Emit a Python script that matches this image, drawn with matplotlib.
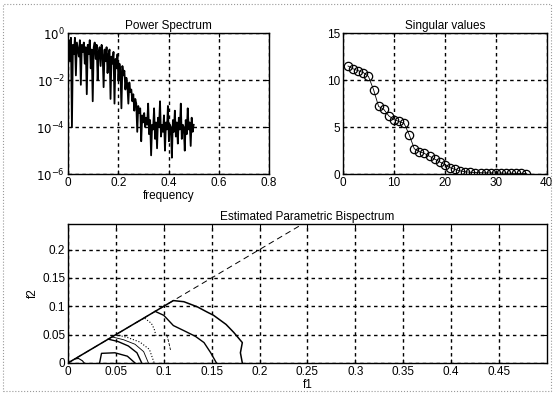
import matplotlib
matplotlib.use('Agg')
import matplotlib.pyplot as plt
import numpy as np
from matplotlib.patches import Rectangle

plt.rcParams['font.family'] = ['Liberation Sans', 'DejaVu Sans']
plt.rcParams['font.size'] = 8.5

# power spectrum, log10 of power (0 .. 0.5 in frequency)
spec_log = [
    -0.6, -0.3, -1.2, -0.2, -4.0, -0.5, -0.9, -0.2, -1.8, -0.4, -0.7, -1.0, -0.3, -2.2, -0.5, -0.8,
    -0.4, -1.3, -0.6, -2.6, -0.5, -0.9, -0.3, -1.5, -0.7, -2.9, -0.6, -0.4, -1.1, -0.5, -2.0, -0.8,
    -0.6, -1.4, -0.5, -0.9, -2.3, -0.7, -1.2, -0.6, -1.7, -0.9, -0.7, -2.8, -1.0, -1.3, -0.8, -3.0,
    -1.1, -1.5, -0.9, -2.0, -1.3, -1.6, -3.2, -1.4, -1.8, -1.6, -2.4, -1.9, -2.2, -3.0, -2.1, -2.5,
    -2.4, -2.9, -2.6, -3.3, -2.8, -3.0, -4.2, -3.1, -3.4, -3.2, -4.6, -3.5, -3.8, -3.4, -4.0, -3.6,
    -3.9, -3.0, -4.3, -3.7, -5.2, -3.9, -4.1, -3.2, -4.5, -3.8, -4.9, -3.6, -4.0, -2.9, -4.4, -3.9,
    -4.2, -3.5, -5.0, -3.8, -4.1, -3.1, -4.6, -3.9, -4.0, -5.3, -3.7, -4.2, -3.3, -4.4, -3.8, -4.7,
    -3.6, -4.1, -3.0, -4.5, -3.9, -4.0, -5.0, -3.7, -4.3, -3.2, -4.1, -3.8, -4.8, -3.6, -4.2, -3.9,
]
freq = np.linspace(0, 0.5, len(spec_log))

# singular values
sv = [11.5, 11.2, 11.0, 10.8, 10.4, 9.0, 7.2, 6.9, 6.2, 5.8, 5.6, 5.4, 4.2, 2.7, 2.4, 2.2,
      1.9, 1.6, 1.3, 1.0, 0.7, 0.5, 0.35, 0.25, 0.2, 0.17, 0.15, 0.14, 0.13, 0.12, 0.11,
      0.1, 0.09, 0.08, 0.07, 0.06]
sv_idx = np.arange(1, len(sv) + 1)

# bispectrum contour lines (f1, f2)
contours = [
    ([0, 0.11, 0.121, 0.135, 0.145, 0.152, 0.165, 0.173, 0.182, 0.180, 0.182],
     [0, 0.11, 0.108, 0.099, 0.090, 0.084, 0.068, 0.054, 0.036, 0.018, 0.0], '-', 1.1),
    ([0.091, 0.100, 0.110, 0.121, 0.133, 0.142, 0.149, 0.155],
     [0.091, 0.084, 0.066, 0.057, 0.047, 0.036, 0.018, 0.0], '-', 1.0),
    ([0.072, 0.080, 0.087, 0.090, 0.092],
     [0.072, 0.079, 0.070, 0.060, 0.047], ':', 0.8),
    ([0.103, 0.105, 0.107],
     [0.050, 0.038, 0.023], '--', 0.6),
    ([0.042, 0.052, 0.063, 0.072, 0.077],
     [0.042, 0.038, 0.030, 0.018, 0.0], '-', 1.0),
    ([0.046, 0.058, 0.070, 0.079, 0.084],
     [0.046, 0.041, 0.033, 0.020, 0.0], '-', 0.6),
    ([0.050, 0.062, 0.075, 0.085, 0.090],
     [0.050, 0.045, 0.037, 0.024, 0.0], ':', 0.8),
    ([0.033, 0.035, 0.049, 0.062, 0.070],
     [0.0, 0.017, 0.018, 0.012, 0.0], '-', 1.0),
    ([0.007, 0.011, 0.015, 0.017],
     [0.007, 0.008, 0.004, 0.0], '-', 0.8),
]
diag_f1 = [0, 0.25]
diag_f2 = [0, 0.25]


def style(ax):
    ax.grid(True, color='black', linestyle=(0, (2.5, 2.5)), linewidth=1.0)
    ax.tick_params(direction='in', top=True, right=True, length=3, pad=2)
    for s in ax.spines.values():
        s.set_linewidth(1.0)


fig = plt.figure(figsize=(5.54, 3.94), dpi=100)
fig.patches.append(Rectangle((0.006, 0.008), 0.988, 0.982, transform=fig.transFigure,
                             fill=False, edgecolor='#999999', linewidth=0.8, linestyle=':'))

ax1 = fig.add_axes([0.1227, 0.558, 0.363, 0.358])
ax1.semilogy(freq, 10.0 ** np.array(spec_log), color='black', linewidth=1.3)
ax1.set_xlim(0, 0.8)
ax1.set_ylim(1e-6, 1)
ax1.set_xticks([0, 0.2, 0.4, 0.6, 0.8])
ax1.set_xticklabels(['0', '0.2', '0.4', '0.6', '0.8'])
ax1.set_yticks([1e-6, 1e-4, 1e-2, 1])
ax1.set_yticklabels(['$10^{-6}$', '$10^{-4}$', '$10^{-2}$', '$10^{0}$'])
ax1.minorticks_off()
ax1.set_title('Power Spectrum', fontsize=8.5, pad=3)
ax1.set_xlabel('frequency', labelpad=1)
style(ax1)

ax2 = fig.add_axes([0.619, 0.558, 0.368, 0.358])
ax2.plot(sv_idx, sv, color='black', linewidth=0.6, marker='o', markersize=6,
         markerfacecolor='none', markeredgewidth=0.9)
ax2.set_xlim(0, 40)
ax2.set_ylim(0, 15)
ax2.set_xticks([0, 10, 20, 30, 40])
ax2.set_yticks([0, 5, 10, 15])
ax2.set_title('Singular values', fontsize=8.5, pad=3)
style(ax2)

ax3 = fig.add_axes([0.1227, 0.0787, 0.8646, 0.3528])
for f1, f2, ls, lw in contours:
    ax3.plot(f1, f2, color='black', linestyle=ls, linewidth=lw)
ax3.plot(diag_f1, diag_f2, color='black', linestyle=(0, (6, 4)), linewidth=0.7)
ax3.set_xlim(0, 0.5)
ax3.set_ylim(0, 0.245)
xt = [0, 0.05, 0.1, 0.15, 0.2, 0.25, 0.3, 0.35, 0.4, 0.45]
ax3.set_xticks(xt)
ax3.set_xticklabels(['0', '0.05', '0.1', '0.15', '0.2', '0.25', '0.3', '0.35', '0.4', '0.45'])
ax3.set_yticks([0, 0.05, 0.1, 0.15, 0.2])
ax3.set_yticklabels(['0', '0.05', '0.1', '0.15', '0.2'])
ax3.set_title('Estimated Parametric Bispectrum', fontsize=8.5, pad=3)
ax3.set_xlabel('f1', labelpad=1)
ax3.set_ylabel('f2', labelpad=2)
style(ax3)

fig.savefig('out.png', dpi=100)
